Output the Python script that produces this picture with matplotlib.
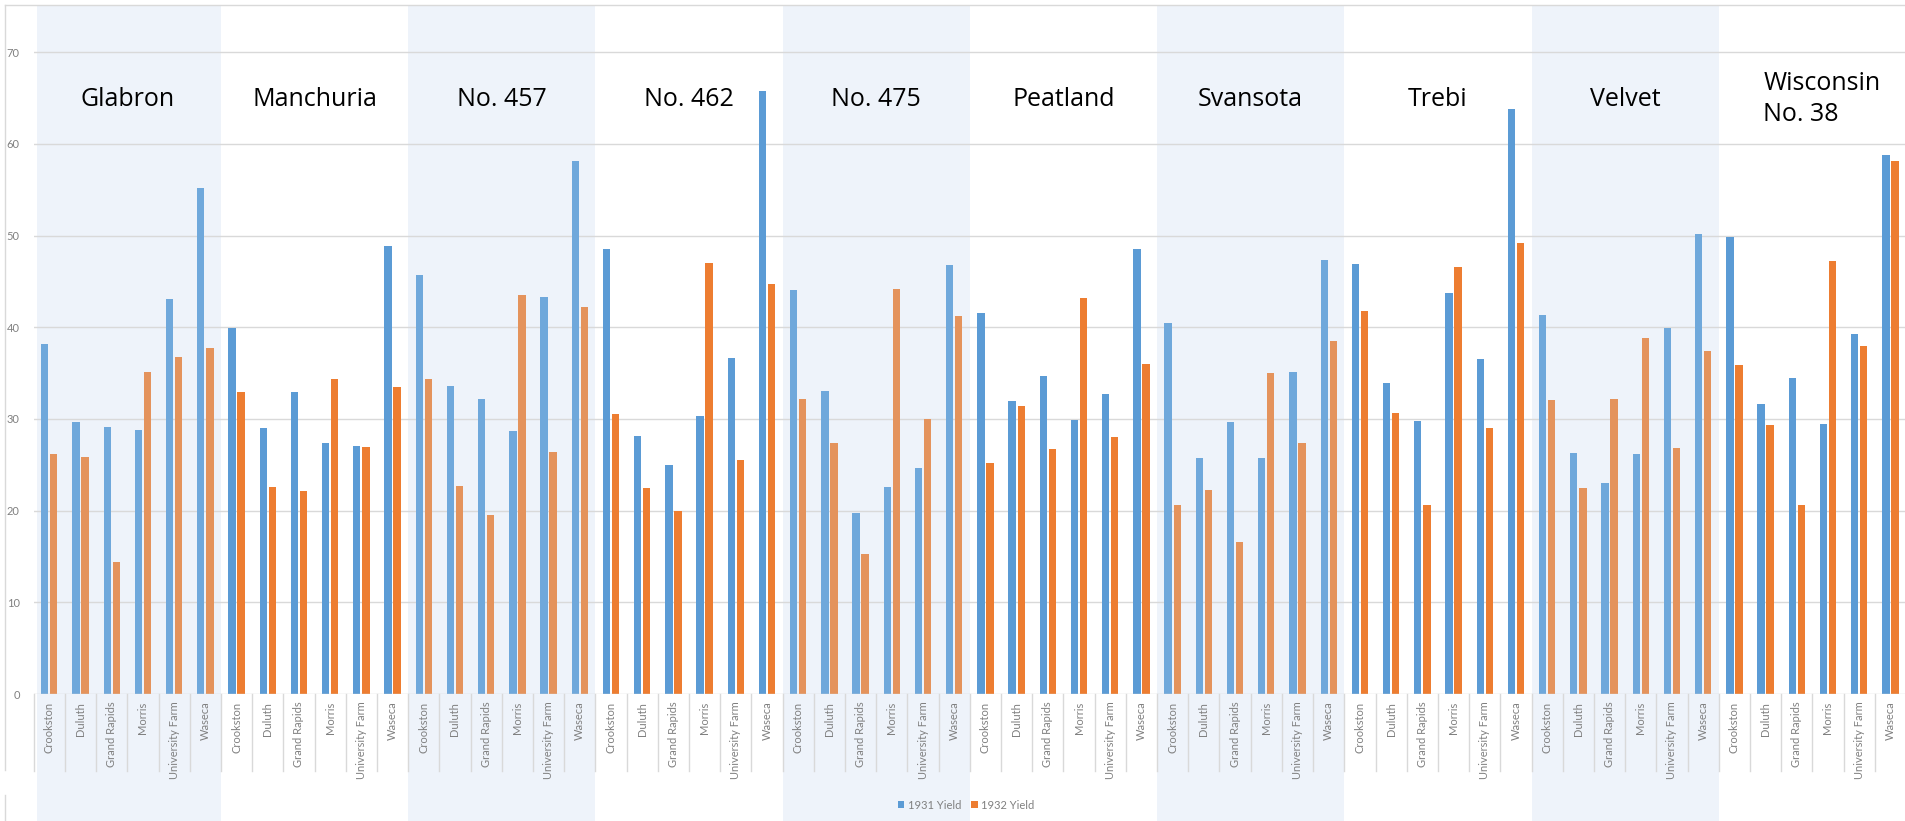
import matplotlib
matplotlib.use("Agg")
import matplotlib.pyplot as plt
import matplotlib.transforms as mtransforms
from matplotlib.lines import Line2D
from matplotlib.patches import Rectangle, Patch
import numpy as np

varieties = ["Glabron", "Manchuria", "No. 457", "No. 462", "No. 475",
             "Peatland", "Svansota", "Trebi", "Velvet", "Wisconsin\nNo. 38"]
sites = ["Crookston", "Duluth", "Grand Rapids", "Morris", "University Farm", "Waseca"]

yield_1931 = [
    [38.13, 29.67, 29.13, 28.77, 43.07, 55.20],  # Glabron
    [39.93, 28.97, 32.97, 27.43, 27.00, 48.87],  # Manchuria
    [45.67, 33.60, 32.17, 28.70, 43.27, 58.10],  # No. 457
    [48.57, 28.10, 24.93, 30.37, 36.60, 65.77],  # No. 462
    [44.10, 33.07, 19.70, 22.60, 24.67, 46.77],  # No. 475
    [41.60, 32.00, 34.70, 29.87, 32.77, 48.57],  # Peatland
    [40.47, 25.70, 29.67, 25.77, 35.13, 47.33],  # Svansota
    [46.93, 33.93, 29.77, 43.77, 36.57, 63.83],  # Trebi
    [41.33, 26.30, 23.03, 26.13, 39.90, 50.23],  # Velvet
    [49.87, 31.60, 34.47, 29.47, 39.30, 58.80],  # Wisconsin No. 38
]
yield_1932 = [
    [26.17, 25.87, 14.43, 35.13, 36.80, 37.73],
    [32.97, 22.57, 22.13, 34.37, 26.90, 33.47],
    [34.33, 22.70, 19.57, 43.53, 26.43, 42.20],
    [30.53, 22.50, 20.00, 47.00, 25.57, 44.70],
    [32.13, 27.37, 15.23, 44.23, 30.00, 41.26],
    [25.23, 31.37, 26.77, 43.20, 28.07, 36.03],
    [20.63, 22.23, 16.63, 35.03, 27.43, 38.50],
    [41.83, 30.60, 20.63, 46.63, 29.07, 49.23],
    [32.07, 22.50, 32.23, 38.83, 26.80, 37.40],
    [35.90, 29.33, 20.67, 47.23, 38.00, 58.17],
]
series_names = ["1931 Yield", "1932 Yield"]
y_ticks = [0, 10, 20, 30, 40, 50, 60, 70]

W, H = 1905, 821
fig = plt.figure(figsize=(W / 100, H / 100), dpi=100)
fig.patch.set_facecolor("white")

ax_left, ax_right = 33.7, 1906.0
ax_bottom, ax_top = 694.0, 5.0
ax = fig.add_axes([ax_left / W, 1 - ax_bottom / H, (ax_right - ax_left) / W, (ax_bottom - ax_top) / H])
ax.set_facecolor("none")

n_sites = len(sites)
n = len(varieties) * n_sites
ax.set_xlim(-0.5, n - 0.5)
ax.set_ylim(0, 75.16)

BLUE, ORANGE = "#5B9BD5", "#ED7D31"
BLUE_L, ORANGE_L = "#6FA8DB", "#E4935C"
BAND = "#EEF3FA"
GRID = "#D9D9D9"
GRAY = "#808080"
SMALL = 8.0

# bands (figure height, data x)
trans_band = mtransforms.blended_transform_factory(ax.transData, fig.transFigure)
for g in range(len(varieties)):
    if g % 2 == 0:
        x0 = g * n_sites - 0.5
        if g == 0:
            x0 += 0.1
        x1 = (g + 1) * n_sites - 0.5
        r = Rectangle((x0, 0), x1 - x0, 1 - 5 / H, transform=trans_band,
                      facecolor=BAND, edgecolor="none")
        fig.add_artist(r)
        r.set_zorder(-10)

ax.set_zorder(1)

# gridlines
for t in y_ticks[1:]:
    ax.axhline(t, color=GRID, lw=1.0, zorder=1)
ax.axhline(0, color=GRID, lw=1.0, zorder=3)

bw = 0.235
off = 0.145
for g in range(len(varieties)):
    shaded = g % 2 == 0
    xs = np.arange(n_sites) + g * n_sites
    ax.bar(xs - off, yield_1931[g], width=bw, color=BLUE_L if shaded else BLUE, zorder=2, linewidth=0)
    ax.bar(xs + off, yield_1932[g], width=bw, color=ORANGE_L if shaded else ORANGE, zorder=2, linewidth=0)

# variety labels
for g, v in enumerate(varieties):
    cx = g * n_sites + (n_sites - 1) / 2
    if "\n" in v:
        ax.text(cx + 0.3, 64.9, v, ha="center", va="center", multialignment="left",
                fontsize=18, family="Open Sans", color="black", zorder=5, linespacing=1.27)
    else:
        ax.text(cx, 64.9, v, ha="center", va="center",
                fontsize=18, family="Open Sans", color="black", zorder=5)

# y ticks
ax.set_yticks(y_ticks)
ax.set_yticklabels([str(t) for t in y_ticks], fontsize=SMALL, color=GRAY, family="Lato")
ax.tick_params(axis="y", length=0, pad=10)

# x ticks (site labels)
ax.set_xticks(np.arange(n))
ax.set_xticklabels(sites * len(varieties), rotation=90, fontsize=SMALL, color=GRAY, family="Lato", va="top")
ax.tick_params(axis="x", length=0, pad=5.5)

for s in ax.spines.values():
    s.set_visible(False)

# category separators below axis
trans_sep = mtransforms.blended_transform_factory(ax.transData, fig.transFigure)
for k in range(n + 1):
    xk = k - 0.5
    ax.add_line(Line2D([xk, xk], [1 - 694 / H, 1 - 770.5 / H], transform=trans_sep,
                       color=GRID, lw=1.0, clip_on=False, zorder=3))

# outer frame lines
fig.add_artist(Line2D([5 / W, 1], [1 - 5 / H, 1 - 5 / H], color=GRID, lw=1.0))
fig.add_artist(Line2D([5 / W, 5 / W], [1 - 5 / H, 1 - 770 / H], color=GRID, lw=1.0))
fig.add_artist(Line2D([5 / W, 5 / W], [1 - 795 / H, 0], color=GRID, lw=1.0))

# legend
handles = [Patch(facecolor=BLUE, edgecolor="none"), Patch(facecolor=ORANGE, edgecolor="none")]
leg = fig.legend(handles, series_names, loc="center", bbox_to_anchor=(966 / W, 1 - 805 / H),
                 ncol=2, frameon=False, handlelength=0.6, handleheight=0.6,
                 handletextpad=0.3, columnspacing=0.9, prop={"family": "Lato", "size": SMALL})
for t in leg.get_texts():
    t.set_color(GRAY)

fig.savefig("out.png", dpi=100, facecolor="white")
